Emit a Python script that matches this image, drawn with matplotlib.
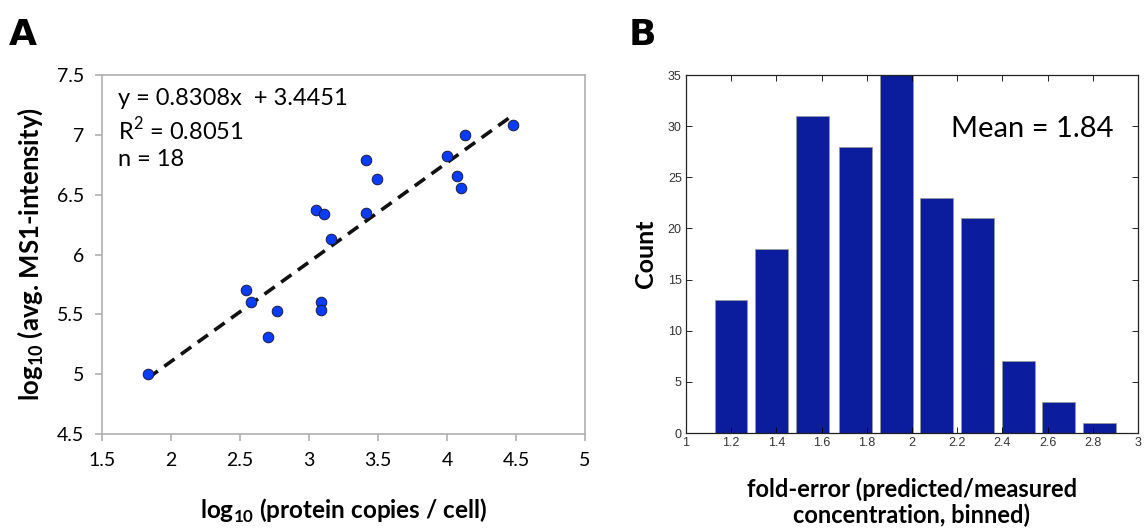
import numpy as np
import matplotlib
matplotlib.use('Agg')
import matplotlib.pyplot as plt

# panel A data: log10 protein copies vs log10 MS1 intensity
copies = [1.83, 2.54, 2.58, 2.77, 2.70, 3.09, 3.09, 3.05, 3.11, 3.16,
          3.41, 3.41, 3.49, 4.00, 4.07, 4.10, 4.13, 4.48]
intensity = [5.00, 5.70, 5.60, 5.53, 5.31, 5.60, 5.54, 6.37, 6.34, 6.13,
             6.35, 6.79, 6.63, 6.82, 6.66, 6.56, 7.00, 7.08]
slope, intercept = 0.8308, 3.4451

# panel B data: fold-error histogram
bin_centers = [1.20, 1.38, 1.56, 1.75, 1.93, 2.11, 2.29, 2.47, 2.65, 2.83]
counts = [13, 18, 31, 28, 35, 23, 21, 7, 3, 1]
xticks_b = ['1', '1.2', '1.4', '1.6', '1.8', '2', '2.2', '2.4', '2.6', '2.8', '3']

plt.rcParams['font.family'] = ['Lato', 'DejaVu Sans']
plt.rcParams['mathtext.fontset'] = 'custom'
plt.rcParams['mathtext.rm'] = 'Lato'
plt.rcParams['mathtext.bf'] = 'Lato:bold'

fig = plt.figure(figsize=(11.45, 5.32), dpi=100)

# ---- A ----
ax = fig.add_axes([0.0891, 0.184, 0.4219, 0.675])
ax.scatter(copies, intensity, s=58, color='#0a3cff', edgecolors='#1a1a40',
           linewidths=0.7, zorder=3)
xl = np.array([min(copies), max(copies)])
ax.plot(xl, slope*xl+intercept, '--', color='#111111', lw=2.6, dashes=(3.5, 2.2), zorder=2)
ax.set_xlim(1.5, 5)
ax.set_ylim(4.5, 7.5)
ax.set_xticks(np.arange(1.5, 5.01, 0.5))
ax.set_yticks(np.arange(4.5, 7.51, 0.5))
ax.set_xticklabels(['1.5', '2', '2.5', '3', '3.5', '4', '4.5', '5'])
ax.set_yticklabels(['4.5', '5', '5.5', '6', '6.5', '7', '7.5'])
for s in ax.spines.values():
    s.set_color('#b0b0b0')
    s.set_linewidth(1.2)
ax.tick_params(colors='#b0b0b0', labelcolor='black', labelsize=14, length=5,
               width=1.2, pad=8)
ax.text(0.033, 0.965, 'y = 0.8308x  + 3.4451\nR$^2$ = 0.8051\nn = 18',
        transform=ax.transAxes, fontsize=17, va='top', linespacing=1.3)
ax.set_xlabel(r'log$_\mathbf{10}$ (protein copies / cell)', fontsize=17.5,
              fontweight='bold', labelpad=20)
ax.set_ylabel(r'log$_\mathbf{10}$ (avg. MS1-intensity)', fontsize=18.5,
              fontweight='bold', labelpad=8)
fig.text(0.008, 0.915, 'A', fontsize=26, fontweight='bold', family='DejaVu Sans')

# ---- B ----
bx = fig.add_axes([0.599, 0.186, 0.3949, 0.673])
bx.bar(bin_centers, counts, width=0.145, color='#0b1c9c', edgecolor='#9a9a9a', linewidth=0.5)
bx.set_xlim(1, 3)
bx.set_ylim(0, 35)
bx.set_xticks(np.arange(1, 3.01, 0.2))
bx.set_xticklabels(xticks_b)
bx.set_yticks(range(0, 36, 5))
bx.tick_params(direction='in', top=True, right=True, labelsize=9, length=4,
               width=0.6, labelcolor='#333333', pad=3)
for t in bx.get_xticklabels() + bx.get_yticklabels():
    t.set_family('Liberation Sans')
for s in bx.spines.values():
    s.set_color('#222222')
    s.set_linewidth(0.9)
bx.text(0.945, 0.85, 'Mean = 1.84', transform=bx.transAxes, fontsize=21, ha='right', va='center')
bx.set_ylabel('Count', fontsize=18, fontweight='bold', labelpad=8)
bx.set_xlabel('fold-error (predicted/measured\nconcentration, binned)', fontsize=17,
              fontweight='bold', labelpad=20, linespacing=1.15)
fig.text(0.549, 0.915, 'B', fontsize=26, fontweight='bold', family='DejaVu Sans')

fig.savefig('out.png', dpi=100)
